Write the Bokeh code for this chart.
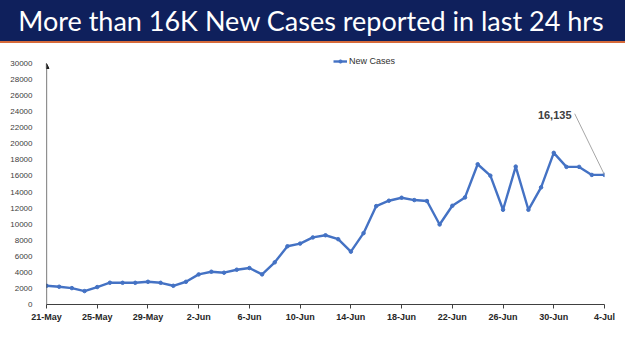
from bokeh.plotting import figure
from bokeh.models import Range1d, FixedTicker, Legend, LegendItem, Label, Arrow, NormalHead, Div
from bokeh.layouts import column
from bokeh.embed import file_html
from bokeh.resources import INLINE

# ---------------- data ----------------
title_text = "More than 16K New Cases reported in last 24 hrs"
series_name = "New Cases"
dates = (["%d-May" % d for d in range(21, 32)]
         + ["%d-Jun" % d for d in range(1, 31)]
         + ["%d-Jul" % d for d in range(1, 5)])
new_cases = [2330, 2210, 2040, 1670, 2170, 2710, 2700, 2700, 2830, 2700, 2330,
             2830, 3750, 4080, 3960, 4330, 4540, 3750, 5250, 7250, 7580,
             8350, 8620, 8130, 6580, 8880, 12250, 12920, 13290, 13000, 12880,
             9960, 12290, 13330, 17460, 16040, 11790, 17170, 11790, 14580, 18880,
             17130, 17130, 16130, 16135]
y_ticks = list(range(0, 30001, 2000))
x_tick_step = 4
annot_text = "16,135"

W = 625
band_h = 43

# ---------------- title band ----------------
title = Div(text=title_text, width=W, height=band_h, margin=0,
            styles={"background-color": "#0f205c", "color": "white",
                    "font-family": "Lato", "font-size": "27px",
                    "text-align": "center", "line-height": "41px",
                    "border-bottom": "2px solid #d66a3a",
                    "box-sizing": "border-box", "white-space": "nowrap",
                    "padding-right": "3px"})

# ---------------- chart ----------------
xs = list(range(len(new_cases)))
y_top = 30000 * 252 / 241
p = figure(width=W, height=351 - band_h, x_range=Range1d(0, len(xs) - 1),
           y_range=Range1d(0, y_top), toolbar_location=None, output_backend="svg",
           min_border_left=46, min_border_right=21, min_border_top=9, min_border_bottom=47,
           margin=0)
p.outline_line_color = None
p.grid.visible = False
p.background_fill_color = "white"
p.border_fill_color = "white"

blue = "#4472C4"
r_line = p.line(xs, new_cases, line_color=blue, line_width=2.4)
r_pts = p.scatter(xs, new_cases, size=3.5, color=blue)

# x axis
p.xaxis.ticker = FixedTicker(ticks=xs[::x_tick_step])
p.xaxis.major_label_overrides = {i: dates[i] for i in xs[::x_tick_step]}
p.xaxis.axis_line_color = "#404040"
p.xaxis.axis_line_width = 1.2
p.xaxis.major_tick_line_color = "#404040"
p.xaxis.major_tick_out = 4
p.xaxis.major_tick_in = 0
p.xaxis.minor_tick_line_color = None
p.xaxis.major_label_standoff = 3
p.xaxis.major_label_text_font = "Liberation Sans"
p.xaxis.major_label_text_font_style = "bold"
p.xaxis.major_label_text_font_size = "9px"
p.xaxis.major_label_text_color = "#262626"

# y axis
p.yaxis.ticker = FixedTicker(ticks=y_ticks)
p.yaxis.axis_line_color = None
p.yaxis.major_tick_line_color = None
p.yaxis.minor_tick_line_color = None
p.yaxis.major_label_standoff = 8
p.yaxis.major_label_text_font = "Liberation Sans"
p.yaxis.major_label_text_font_size = "8px"
p.yaxis.major_label_text_color = "#404040"
p.add_layout(Arrow(x_start=0, y_start=0, x_end=0, y_end=y_ticks[-1],
                   line_color="#202020", line_width=1.2,
                   end=NormalHead(size=5, fill_color="#202020", line_color="#202020")))

# legend
legend = Legend(items=[LegendItem(label=series_name, renderers=[r_line, r_pts])],
                location=(287, 238), orientation="horizontal",
                glyph_width=14, glyph_height=8, label_standoff=2, padding=0, margin=0,
                label_height=8, border_line_color=None, background_fill_alpha=0,
                label_text_font="Liberation Sans", label_text_font_size="9px",
                label_text_color="#303030")
p.add_layout(legend)

# data label with leader line
last_x = xs[-1]
last_y = new_cases[-1]
p.segment(x0=[last_x - 2.35], y0=[23750], x1=[last_x], y1=[last_y],
          line_color="#a6a6a6", line_width=1)
p.add_layout(Label(x=last_x - 2.6, y=23625, text=annot_text, text_align="right",
                   text_baseline="middle", text_font="Liberation Sans",
                   text_font_style="bold", text_font_size="11px", text_color="#404040"))

layout = column(title, p, spacing=0, margin=0)
open("out.html", "w").write(file_html(layout, INLINE))
